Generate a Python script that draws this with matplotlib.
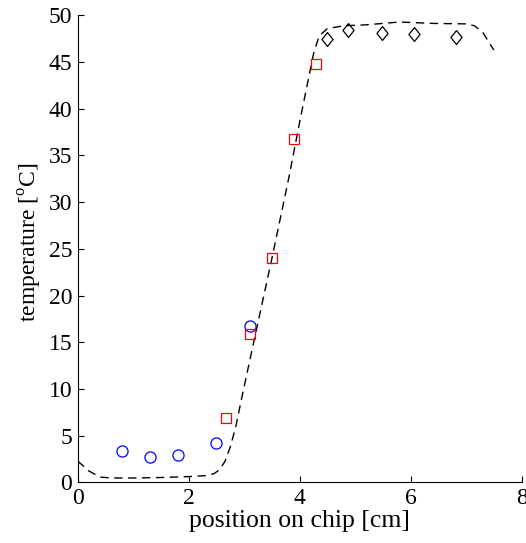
import matplotlib.pyplot as plt
import numpy as np

plt.rcParams['font.family'] = ['Liberation Serif', 'DejaVu Serif']
plt.rcParams['mathtext.fontset'] = 'custom'
plt.rcParams['mathtext.rm'] = 'Liberation Serif'

# model curve (dashed)
model_x = [0, 0.2, 0.4, 0.6, 1.0, 1.5, 2.0, 2.3, 2.45, 2.55, 2.65, 2.75, 2.85,
           2.95, 3.2, 3.5, 3.8, 4.0, 4.15, 4.25, 4.35, 4.5, 4.8, 5.2, 5.8, 6.4,
           7.0, 7.15, 7.3, 7.5]
model_y = [2.25, 1.2, 0.55, 0.45, 0.45, 0.5, 0.6, 0.7, 0.9, 1.3, 2.2, 3.8, 6.0,
           8.9, 15.8, 24.0, 32.5, 38.6, 43.0, 45.9, 47.8, 48.6, 48.9, 49.0, 49.3,
           49.15, 49.1, 48.9, 48.2, 46.3]

# measurements
circ_x = [0.8, 1.3, 1.8, 2.5, 3.1]
circ_y = [3.35, 2.65, 2.9, 4.25, 16.7]
sq_x = [2.68, 3.1, 3.5, 3.89, 4.29]
sq_y = [6.9, 15.9, 24.0, 36.8, 44.8]
dia_x = [4.49, 4.88, 5.48, 6.07, 6.81]
dia_y = [47.5, 48.4, 48.1, 48.0, 47.7]

fig = plt.figure(figsize=(5.26, 5.43), dpi=100)
ax = fig.add_axes([0.148, 0.112, 0.8435, 0.8595])

ax.plot(model_x, model_y, color='black', lw=1, dashes=(6, 4))
ax.plot(circ_x, circ_y, 'o', mfc='none', mec='blue', ms=8, mew=0.9)
ax.plot(sq_x, sq_y, 's', mfc='none', mec='red', ms=7, mew=0.9)
diamond = [(0, 1), (0.8, 0), (0, -1), (-0.8, 0), (0, 1)]
ax.plot(dia_x, dia_y, marker=diamond, ls='none', mfc='none', mec='black',
        ms=10, mew=0.9)

ax.set_xlim(0, 8)
ax.set_ylim(0, 50)
ax.set_xticks([0, 2, 4, 6, 8])
ax.set_yticks(np.arange(0, 51, 5))
ax.spines['top'].set_visible(False)
ax.spines['right'].set_visible(False)
ax.tick_params(direction='in', length=4, labelsize=17, pad=4)

ax.set_xlabel('position on chip [cm]', fontsize=18.5, labelpad=1)
ax.set_ylabel('temperature [$^\\mathrm{o}$C]', fontsize=17)
ax.yaxis.set_label_coords(-0.077, 0.515)

fig.savefig('out.png', dpi=100)
